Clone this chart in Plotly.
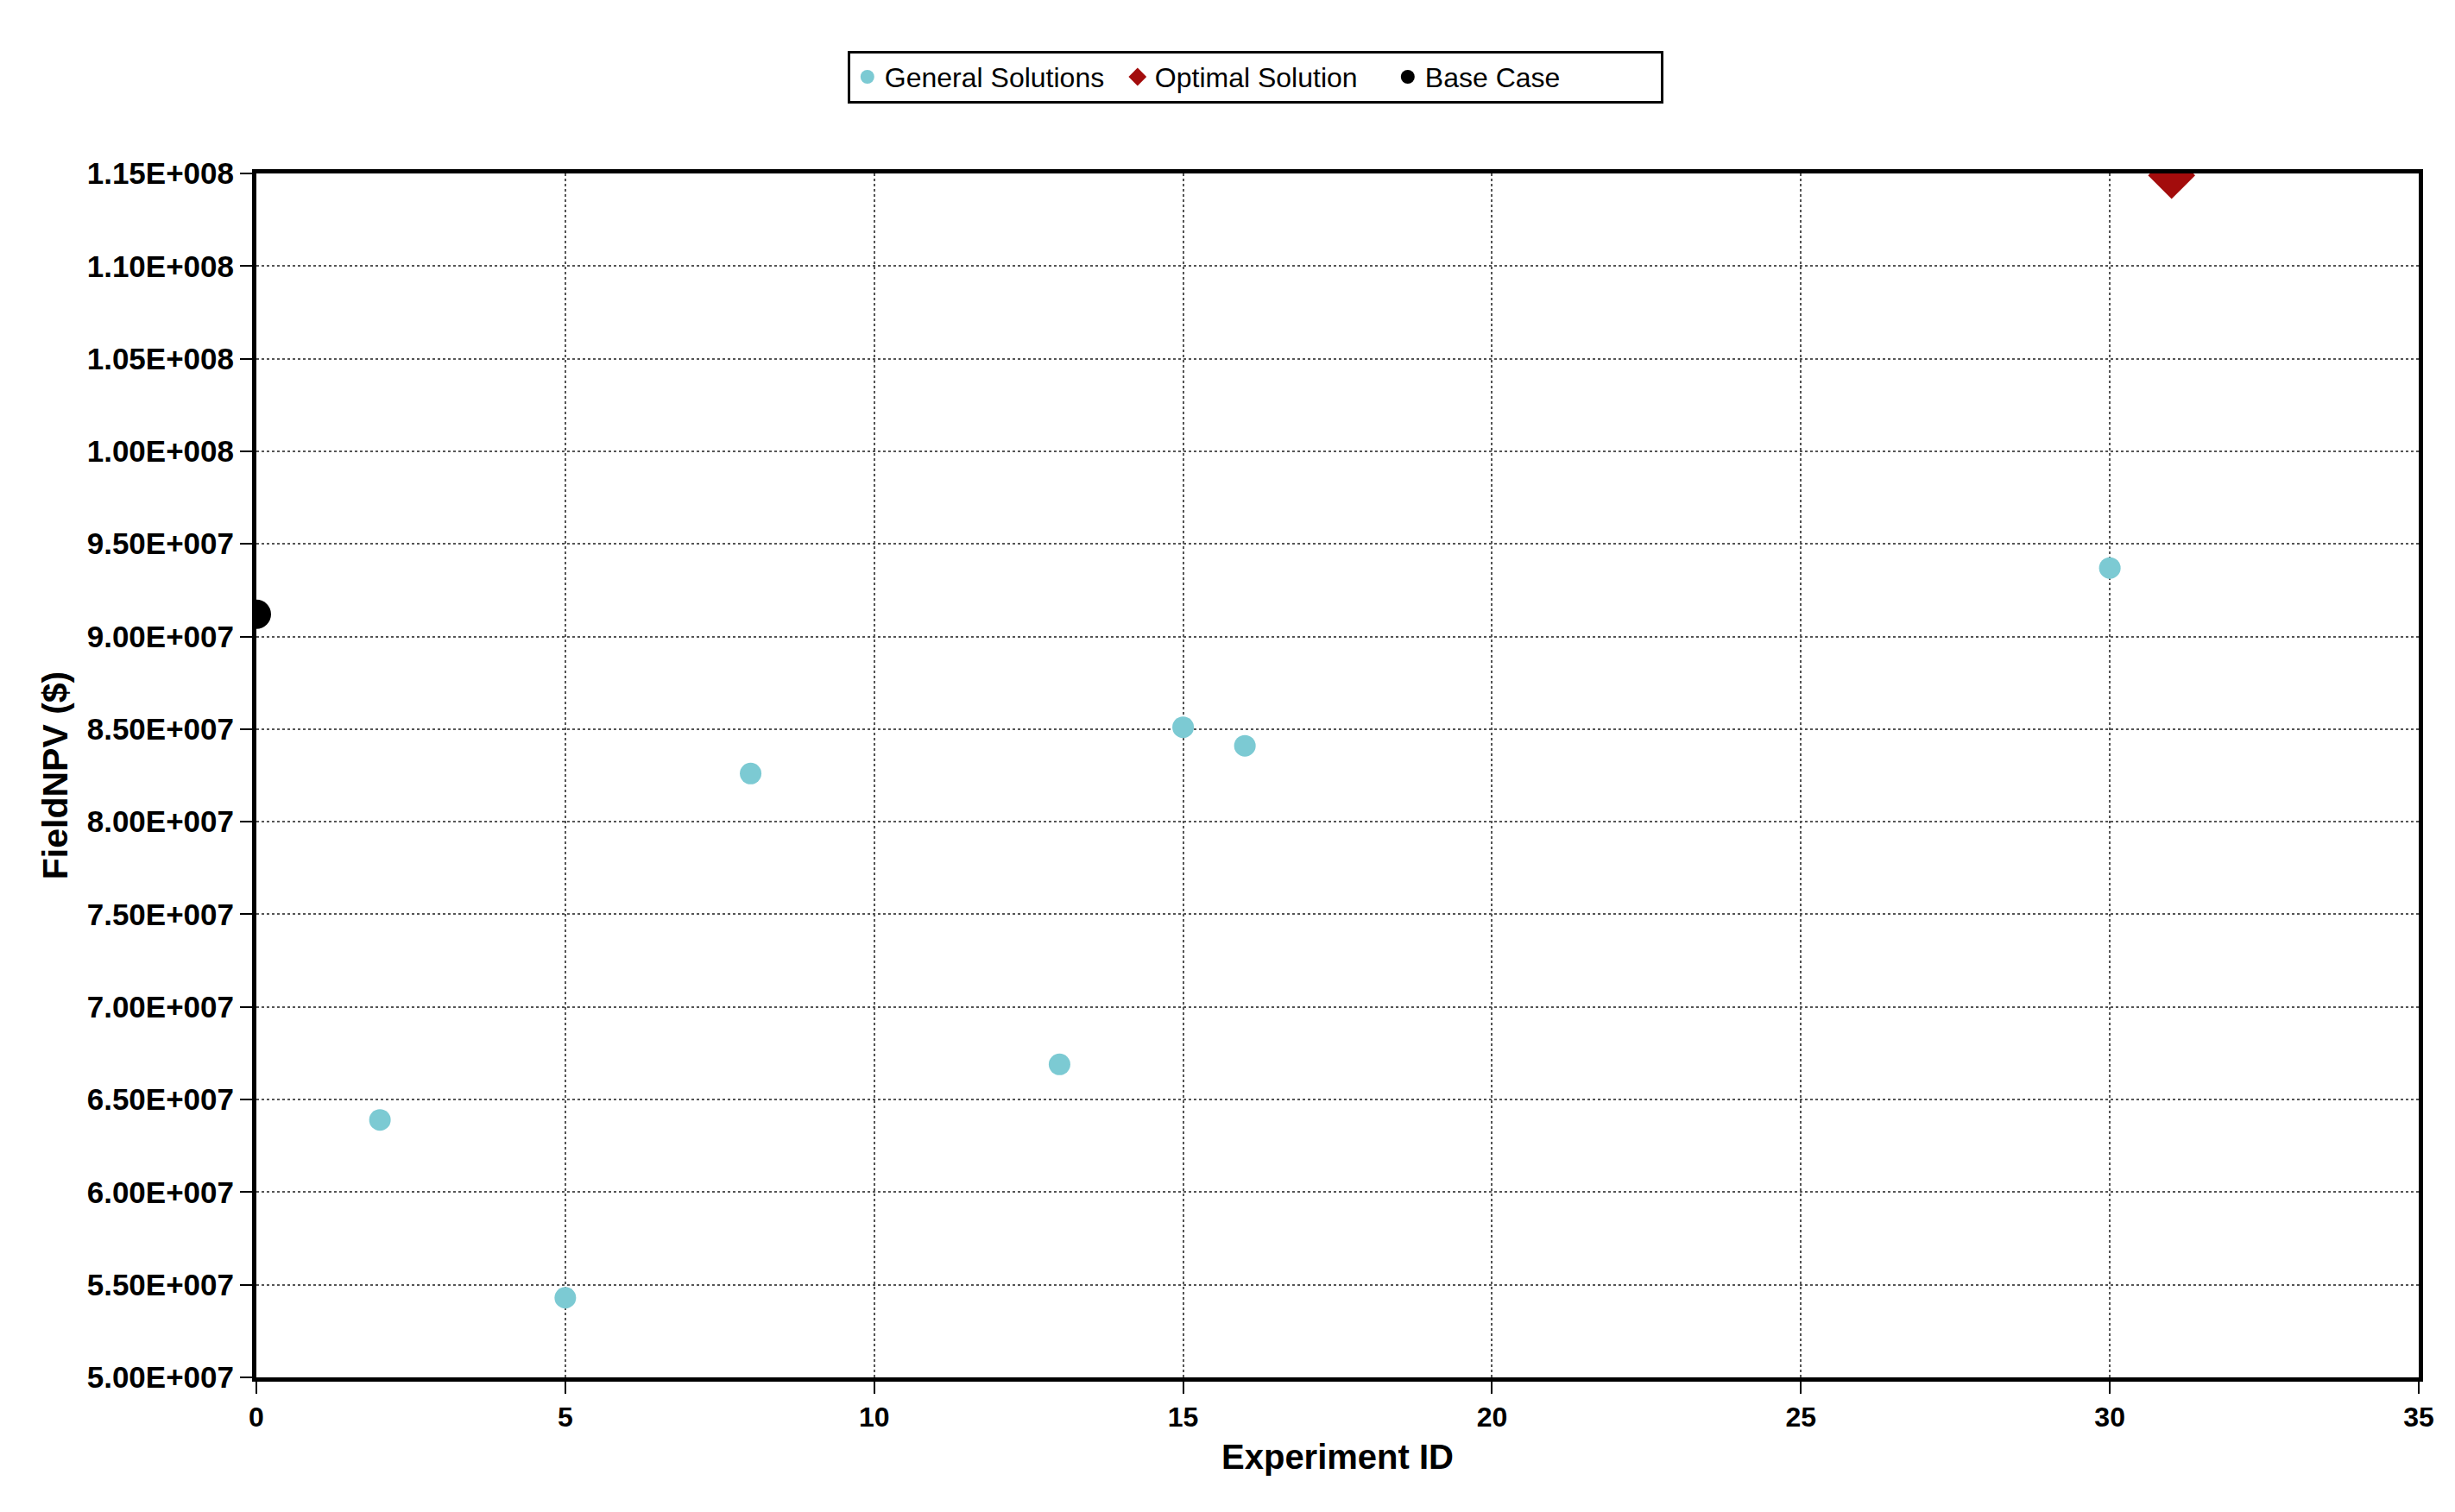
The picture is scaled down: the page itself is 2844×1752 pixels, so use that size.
import plotly.graph_objects as go

# General solutions (experiment id, field NPV)
general_ids = [2, 5, 8, 13, 15, 16, 30]
general_npv = [6.39e7, 5.43e7, 8.26e7, 6.69e7, 8.51e7, 8.41e7, 9.37e7]

optimal_ids = [31]
optimal_npv = [1.149e8]

base_ids = [0]
base_npv = [9.12e7]

x_ticks = [0, 5, 10, 15, 20, 25, 30, 35]
y_ticks = [5.0e7, 5.5e7, 6.0e7, 6.5e7, 7.0e7, 7.5e7, 8.0e7, 8.5e7, 9.0e7,
           9.5e7, 1.0e8, 1.05e8, 1.10e8, 1.15e8]
y_tick_labels = ['5.00E+007', '5.50E+007', '6.00E+007', '6.50E+007', '7.00E+007',
                 '7.50E+007', '8.00E+007', '8.50E+007', '9.00E+007', '9.50E+007',
                 '1.00E+008', '1.05E+008', '1.10E+008', '1.15E+008']

colors = {
    'general': '#7CCAD3',
    'optimal': '#A30C0C',
    'base': '#000000',
    'grid': '#555555',
}
font_family = 'Liberation Sans, Arial, sans-serif'

fig = go.Figure()

fig.add_trace(go.Scatter(
    x=general_ids, y=general_npv, mode='markers', name='General Solutions',
    marker=dict(color=colors['general'], size=25, symbol='circle'),
))
fig.add_trace(go.Scatter(
    x=optimal_ids, y=optimal_npv, mode='markers', name='Optimal Solution',
    marker=dict(color=colors['optimal'], size=42, symbol='diamond'),
))
fig.add_trace(go.Scatter(
    x=base_ids, y=base_npv, mode='markers', name='Base Case',
    marker=dict(color=colors['base'], size=34, symbol='circle'),
))

axis_common = dict(
    showline=True, linecolor='black', linewidth=5, mirror=True,
    showgrid=True, gridcolor=colors['grid'], gridwidth=2, griddash='dot',
    zeroline=False, ticks='outside', ticklen=14, tickwidth=2, tickcolor='black',
)

fig.update_xaxes(
    range=[0, 35], tickvals=x_ticks,
    tickfont=dict(family=font_family, size=32, color='black', weight='bold'),
    title=dict(text='Experiment ID', standoff=16,
               font=dict(family=font_family, size=40, color='black', weight='bold')),
    **axis_common,
)
fig.update_yaxes(
    range=[5.0e7, 1.15e8], tickvals=y_ticks, ticktext=y_tick_labels,
    tickfont=dict(family=font_family, size=35, color='black', weight='bold'),
    title=dict(text='FieldNPV ($)', standoff=11,
               font=dict(family=font_family, size=41, color='black', weight='bold')),
    **axis_common,
)

fig.update_layout(
    width=2844, height=1752,
    paper_bgcolor='white', plot_bgcolor='white',
    margin=dict(l=289, r=50, t=193, b=164),
    font=dict(family=font_family, color='black'),
    legend=dict(
        orientation='h', x=0.462, xanchor='center', y=1.102, yanchor='top',
        bordercolor='black', borderwidth=3, bgcolor='white',
        font=dict(family=font_family, size=32, color='black'),
        itemsizing='trace', entrywidth=268, entrywidthmode='pixels',
    ),
)

fig.write_html("out.html")
